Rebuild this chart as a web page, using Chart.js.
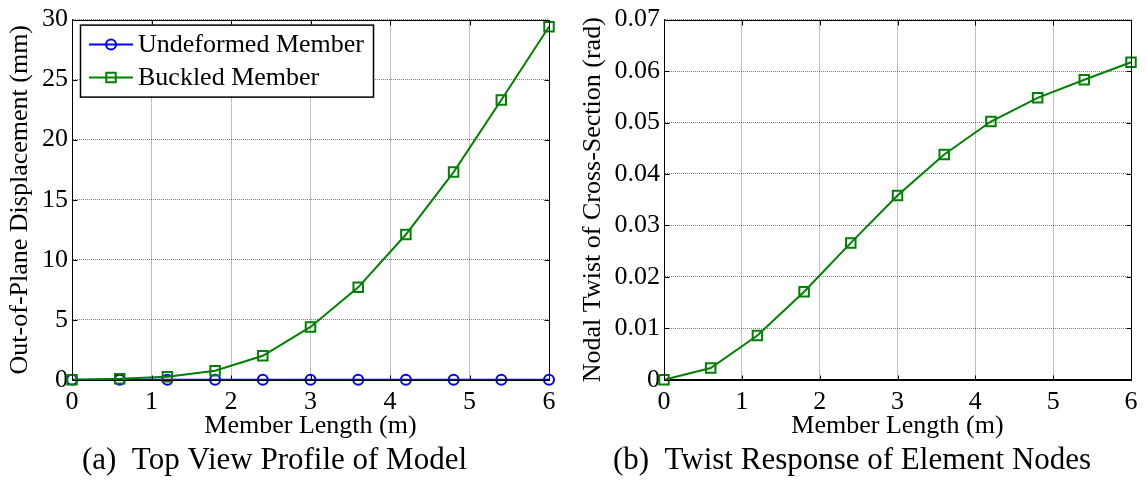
<!DOCTYPE html>
<html>
<head>
<meta charset="utf-8">
<script src="https://cdn.jsdelivr.net/npm/chart.js@4.4.1/dist/chart.umd.min.js"></script>
<style>
  html, body { margin: 0; padding: 0; background: #FFFFFF; }
  .row { display: flex; width: 1147px; height: 480px; }
  .panel { position: relative; height: 480px; }
  #left { width: 573px; }
  #right { width: 574px; }
</style>
</head>
<body>
<div class="row">
  <div class="panel" id="left"><canvas id="dispChart"></canvas></div>
  <div class="panel" id="right"><canvas id="twistChart"></canvas></div>
</div>
<script>
const memberLength = [0, 0.6, 1.2, 1.8, 2.4, 3.0, 3.6, 4.2, 4.8, 5.4, 6.0];
const undeformedDisp = [0, 0, 0, 0, 0, 0, 0, 0, 0, 0, 0];
const buckledDisp = [0, 0.08, 0.25, 0.75, 2.0, 4.4, 7.7, 12.1, 17.3, 23.3, 29.4];
const nodalTwist = [0, 0.0023, 0.0086, 0.0171, 0.0266, 0.0358, 0.0438, 0.0502, 0.0548, 0.0583, 0.0617];

const seriesNames = ["Undeformed Member", "Buckled Member"];
const captions = ["(a)  Top View Profile of Model", "(b)  Twist Response of Element Nodes"];

const FONT = '"Liberation Serif", "Times New Roman", serif';
const BLUE = "#0000FF";
const GREEN = "#008000";

function toPoints(xs, ys) {
  return xs.map((x, i) => ({ x: x, y: ys[i] }));
}

// box around the axes with inward ticks, like MATLAB "box on"
const frameBox = {
  id: "frameBox",
  afterDatasetsDraw(chart) {
    const a = chart.chartArea;
    const ctx = chart.ctx;
    const L = Math.round(a.left) + 0.5;
    const T = Math.round(a.top) + 0.5;
    const R = Math.round(a.right) + 0.5;
    const B = Math.round(a.bottom) + 0.5;
    ctx.save();
    ctx.strokeStyle = "#000000";
    ctx.lineWidth = 1;
    ctx.strokeRect(L, T, R - L, B - T);
    const len = 5;
    ctx.beginPath();
    chart.scales.x.ticks.forEach((t) => {
      const px = Math.round(chart.scales.x.getPixelForValue(t.value)) + 0.5;
      ctx.moveTo(px, B); ctx.lineTo(px, B - len);
      ctx.moveTo(px, T); ctx.lineTo(px, T + len);
    });
    chart.scales.y.ticks.forEach((t) => {
      const py = Math.round(chart.scales.y.getPixelForValue(t.value)) + 0.5;
      ctx.moveTo(L, py); ctx.lineTo(L + len, py);
      ctx.moveTo(R, py); ctx.lineTo(R - len, py);
    });
    ctx.stroke();
    ctx.restore();
  },
};

// legend with line + marker, boxed, in the top-left corner of the plot
const boxedLegend = {
  id: "boxedLegend",
  afterDraw(chart, args, opts) {
    if (!opts || !opts.display) return;
    const ctx = chart.ctx;
    const a = chart.chartArea;
    const x0 = a.left + 8;
    const y0 = a.top + 5;
    const w = 293;
    const h = 72;
    ctx.save();
    ctx.fillStyle = "#FFFFFF";
    ctx.fillRect(x0, y0, w, h);
    ctx.strokeStyle = "#000000";
    ctx.lineWidth = 1.5;
    ctx.strokeRect(x0 + 0.5, y0 + 0.5, w, h);
    ctx.font = "26px " + FONT;
    ctx.textBaseline = "middle";
    ctx.textAlign = "left";
    chart.data.datasets.forEach((ds, i) => {
      const cy = y0 + 20 + i * 33;
      ctx.strokeStyle = ds.borderColor;
      ctx.lineWidth = 2;
      ctx.beginPath();
      ctx.moveTo(x0 + 9, cy);
      ctx.lineTo(x0 + 53, cy);
      ctx.stroke();
      ctx.fillStyle = "rgba(0,0,0,0)";
      Chart.helpers.drawPoint(ctx, {
        pointStyle: ds.pointStyle,
        radius: ds.pointRadius,
        borderWidth: 2,
      }, x0 + 31, cy);
      ctx.fillStyle = "#000000";
      ctx.fillText(ds.label, x0 + 58, cy + 1);
    });
    ctx.restore();
  },
};

function axisConfig(min, max, step, title, side) {
  return {
    type: "linear",
    min: min,
    max: max,
    ticks: {
      stepSize: step,
      color: "#000000",
      font: { family: FONT, size: 26 },
      padding: side === "x" ? 7 : 4,
    },
    grid: {
      color: "rgba(0, 0, 0, 0.5)",
      lineWidth: 1,
      drawTicks: false,
    },
    border: { display: true, color: "#000000", width: 1, dash: [1, 1] },
    title: {
      display: true,
      text: title,
      color: "#000000",
      font: { family: FONT, size: 26 },
      padding: side === "x" ? { top: 0, bottom: 0 } : { top: 5, bottom: 2 },
    },
  };
}

function makeChart(canvasId, datasets, yMin, yMax, yStep, yTitle, caption, axisWidth, pad, withLegend) {
  const yAxis = axisConfig(yMin, yMax, yStep, yTitle, "y");
  yAxis.afterFit = (scale) => { scale.width = axisWidth; };
  const xAxis = axisConfig(0, 6, 1, "Member Length (m)", "x");
  xAxis.afterFit = (scale) => { scale.height = 62; };
  return new Chart(document.getElementById(canvasId), {
    type: "line",
    data: { datasets: datasets },
    plugins: [frameBox, boxedLegend],
    options: {
      responsive: true,
      maintainAspectRatio: false,
      animation: false,
      layout: { padding: pad },
      plugins: {
        legend: { display: false },
        tooltip: { enabled: false },
        boxedLegend: { display: withLegend },
        title: {
          display: true,
          position: "bottom",
          text: caption,
          color: "#000000",
          font: { family: FONT, size: 31, weight: "normal" },
          padding: { top: 0, bottom: 1 },
        },
      },
      scales: {
        x: xAxis,
        y: yAxis,
      },
    },
  });
}

function lineSeries(label, ys, color, style, radius, order) {
  return {
    label: label,
    data: toPoints(memberLength, ys),
    borderColor: color,
    backgroundColor: "rgba(0,0,0,0)",
    borderWidth: 2,
    tension: 0,
    pointStyle: style,
    pointRadius: radius,
    pointBorderWidth: 2,
    pointBorderColor: color,
    pointBackgroundColor: "rgba(0,0,0,0)",
    clip: false,
    order: order,
  };
}

makeChart(
  "dispChart",
  [
    lineSeries(seriesNames[0], undeformedDisp, BLUE, "circle", 5, 1),
    lineSeries(seriesNames[1], buckledDisp, GREEN, "rect", 6.7, 0),
  ],
  0, 30, 5,
  "Out-of-Plane Displacement (mm)",
  captions[0],
  72,
  { top: 17, right: 24, bottom: 0, left: 0 },
  true
);

makeChart(
  "twistChart",
  [
    lineSeries(seriesNames[1], nodalTwist, GREEN, "rect", 6.7, 0),
  ],
  0, 0.07, 0.01,
  "Nodal Twist of Cross-Section (rad)",
  captions[1],
  91,
  { top: 17, right: 16, bottom: 0, left: 0 },
  false
);
</script>
</body>
</html>
